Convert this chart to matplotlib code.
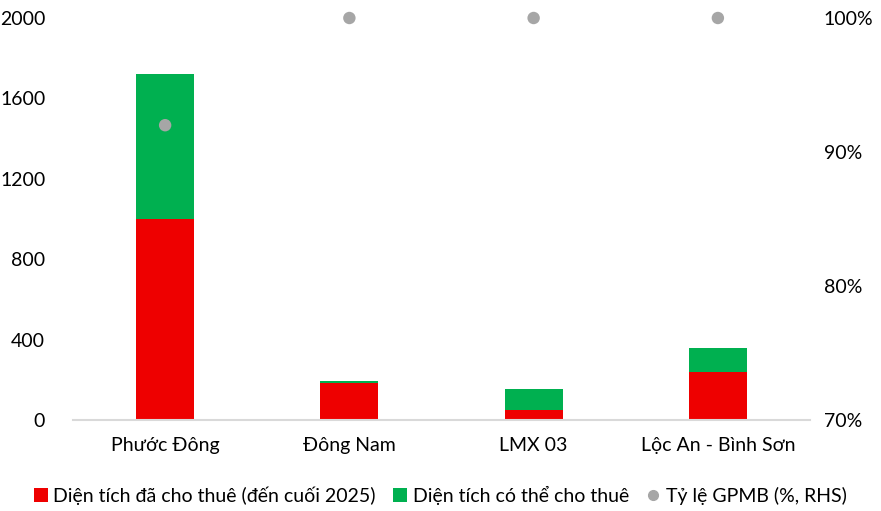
import matplotlib.pyplot as plt
from matplotlib.lines import Line2D
from matplotlib.patches import Patch

plt.rcParams['font.family'] = ['Lato', 'DejaVu Sans']

categories = ['Phước Đông', 'Đông Nam', 'LMX 03', 'Lộc An - Bình Sơn']
leased = [1000, 182, 48, 240]
available = [720, 12, 106, 120]
clearance = [92, 100, 100, 100]

red = '#EE0000'
green = '#00B050'
gray = '#A6A6A6'

fig = plt.figure(figsize=(8.81, 5.11), dpi=100)
ax = fig.add_axes([73 / 881, 1 - 420 / 511, 737 / 881, 402 / 511])
x = range(len(categories))

ax.bar(x, leased, width=0.315, color=red, zorder=2)
ax.bar(x, available, width=0.315, bottom=leased, color=green, zorder=2)

ax.set_xlim(-0.5, 3.5)
ax.set_ylim(0, 2000)
ax.set_yticks([0, 400, 800, 1200, 1600, 2000])
ax.set_xticks(list(x))
ax.set_xticklabels(categories)
for s in ['top', 'right', 'left']:
    ax.spines[s].set_visible(False)
ax.spines['bottom'].set_color('#D9D9D9')
ax.spines['bottom'].set_linewidth(1.5)
ax.tick_params(axis='both', length=0, labelsize=14, colors='black')
ax.tick_params(axis='y', pad=20)
ax.tick_params(axis='x', pad=12)

ax2 = ax.twinx()
ax2.scatter(x, clearance, s=80, color=gray, zorder=3, edgecolors='none',
            clip_on=False)
ax2.set_ylim(70, 100)
ax2.set_yticks([70, 80, 90, 100])
ax2.set_yticklabels(['70%', '80%', '90%', '100%'])
for s in ax2.spines.values():
    s.set_visible(False)
ax2.tick_params(axis='y', length=0, labelsize=14, pad=10)

handles = [
    Patch(facecolor=red, label='Diện tích đã cho thuê (đến cuối 2025)'),
    Patch(facecolor=green, label='Diện tích có thể cho thuê'),
    Line2D([], [], marker='o', linestyle='none', color=gray, markersize=7,
           label='Tỷ lệ GPMB (%, RHS)'),
]
fig.legend(handles=handles, loc='center', bbox_to_anchor=(0.5, 1 - 495 / 511),
           ncol=3, frameon=False, fontsize=14, handlelength=0.7,
           handleheight=0.7, handletextpad=0.3, columnspacing=0.9)

fig.savefig('out.png', dpi=100)
